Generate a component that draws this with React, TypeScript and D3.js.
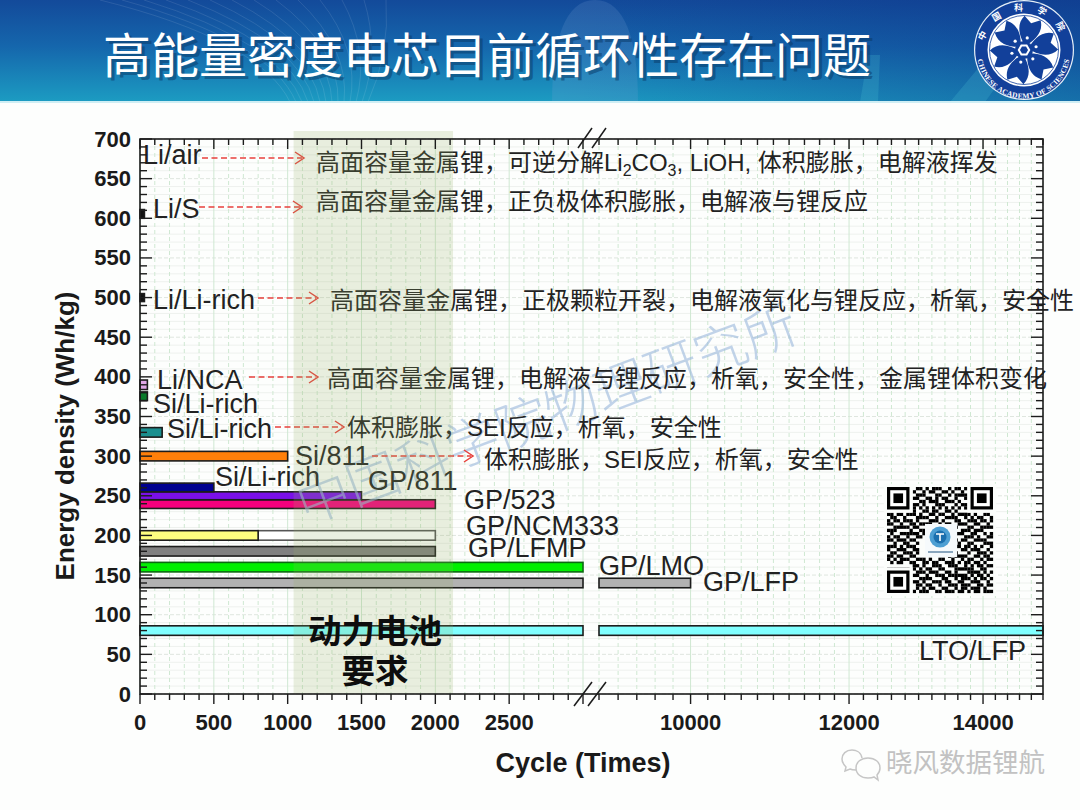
import React from "react";
import * as d3 from "d3";

const title = "高能量密度电芯目前循环性存在问题";
const yTicks = d3.range(0, 701, 50);
const xMajorLeft = [0, 500, 1000, 1500, 2000, 2500];
const xMajorRight = [10000, 12000, 14000];

const barNames = ["LTO/LFP","GP/LFP","GP/LMO","GP/LFMP","GP/NCM333 a","GP/NCM333 b","GP/523","GP/811","Si/Li-rich a","Si/811","Si/Li-rich b","Si/Li-rich c","Li/NCA","Li/Li-rich","Li/S"];
const barStart = [0,0,0,0,800,0,0,0,0,0,0,0,0,0,0];
const barEnd = [15000,10000,3000,2000,2000,800,2000,1500,500,1000,150,50,50,30,30];
const barLow = [74,134,154,174,194,194,234,245,255,294,324,370,384,495,600];
const barHigh = [86,146,166,186,206,206,245,255,266,306,336,381,396,505,611];
const barFill = ["#80ffff","#b2b2b2","#00f000","#808080","#ffffff","#ffff80","#f5007d","#7a10e8","#00008f","#ff7f0a","#1a8f8f","#0a7a2a","#dfa6e6","#111111","#111111"];

const seriesLabels = ["Li/air","Li/S","Li/Li-rich","Li/NCA","Si/Li-rich","Si/Li-rich","Si/811","Si/Li-rich","GP/811","GP/523","GP/NCM333","GP/LFMP","GP/LMO","GP/LFP","LTO/LFP"];
const notes = [
  "高面容量金属锂，正负极体积膨胀，电解液与锂反应",
  "高面容量金属锂，正极颗粒开裂，电解液氧化与锂反应，析氧，安全性",
  "高面容量金属锂，电解液与锂反应，析氧，安全性，金属锂体积变化",
  "体积膨胀，SEI反应，析氧，安全性",
  "体积膨胀，SEI反应，析氧，安全性",
];
const qrRows = [
"111111100110101110010110101111111","100000101001011001101001001000001","101110100111000110010111101011101","101110101100110101100100101011101","101110100011011100111010001011101","100000101101000111000101101000001","111111101010101010101010101111111","000000001001101100110100000000000",
"110110111010011011001011110100110","011001000111100100111100101011001","101101110100011101000110011101101","110010011011110010110011100110010","001111101100101111011100011001111","111000010011011000101001110111000","010011111101100110110111001100101","101100100110111001001000111010011",
"110111011000000000001101100111100","001001100100000000010010011000111","111010111000000000001110110101001","100111001100000000011001101110010","011001110100000000001100010011101","110110011000000000010111100110110","101011100111010011001001011001011","010110011001101100111010110110100",
"000000001101001110011100101011011","111111101010110011000111111001100","100000100111011100110100011110101","101110101100100111011111101011010","101110100011110001100101110101101","101110101101001110110011001110010","100000100110110010011101110011011","101101100101011001100101101110100","111111101011100110111011010110111",
];

function buildX() {
  const left = d3.scaleLinear().domain([0, 3000]).range([140, 583]);
  const right = d3.scaleLog().domain([9000, 15000]).range([599, 1043]);
  return { left, right };
}

export default function App() {
  const W = 1080, H = 810;
  const { left: xL, right: xR } = buildX();
  const y = d3.scaleLinear().domain([0, 700]).range([694, 139]);
  const X0 = 140, X1 = 1043, Y0 = 694, Y1 = 139;
  const ink = "#1c1c1c";
  const sans = "'Liberation Sans','Noto Sans CJK SC',sans-serif";
  const cjk = "'Liberation Sans','Noto Sans CJK SC',sans-serif";

  const leftMinor = d3.range(0, 3001, 100);
  const rightMinor = d3.range(9000, 15001, 200);
  const yMinor = d3.range(0, 701, 10);

  const labelPos: [number, number][] = [[143,164],[153,218],[153,309],[157,389],[153,413],[167,438],[295,465],[215,486],[368,490],[464,509],[466,535],[468,557],[599,575],[703,591],[919,660]];
  const notePos: [number, number][] = [[316,210],[330,309],[327,387],[347,436],[484,468]];
  const arrows: [number, number, number][] = [[202,304,158],[199,302,207],[258,318,298],[249,318,377],[275,344,427],[372,473,456]];

  const qrX = 887, qrY = 487, qrM = 106 / 33;
  const finder = (fx: number, fy: number, k: string) => (
    <g key={k}>
      <rect x={fx - qrM} y={fy - qrM} width={qrM * 9} height={qrM * 9} fill="#fbfdfb" />
      <rect x={fx} y={fy} width={qrM * 7} height={qrM * 7} fill="#000" />
      <rect x={fx + qrM} y={fy + qrM} width={qrM * 5} height={qrM * 5} fill="#fff" />
      <rect x={fx + 2 * qrM} y={fy + 2 * qrM} width={qrM * 3} height={qrM * 3} fill="#000" />
    </g>
  );

  const petal = "M0,-5 C-8,-12 -16,-24 -9,-36 L0,-30 L9,-36 C16,-24 8,-12 0,-5 Z";
  const hex = d3.range(6).map((i) => [5.2 * Math.cos((i * Math.PI) / 3), 5.2 * Math.sin((i * Math.PI) / 3)].join(",")).join(" ");

  return (
    <svg width={W} height={H} viewBox={`0 0 ${W} ${H}`} style={{ position: "absolute", left: 0, top: 0, background: "#fdfefd" }}>
      <defs>
        <linearGradient id="hdr" x1="0" y1="0" x2="0" y2="1">
          <stop offset="0" stopColor="#134a9a" />
          <stop offset="0.45" stopColor="#1566ac" />
          <stop offset="1" stopColor="#1c9cc2" />
        </linearGradient>
        <linearGradient id="hdrR" x1="0" y1="0" x2="1" y2="0">
          <stop offset="0" stopColor="#0c2f86" stopOpacity="0" />
          <stop offset="1" stopColor="#0c2f86" stopOpacity="0.4" />
        </linearGradient>
        <path id="logoTop" d="M 983,52 A 41,41 0 0 1 1065,52" />
        <path id="logoBot" d="M 977,52 A 46.5,46.5 0 0 0 1070,52" />
      </defs>

      {/* header */}
      <rect x={0} y={0} width={W} height={102} fill="url(#hdr)" />
      <rect x={560} y={0} width={520} height={102} fill="url(#hdrR)" />
      {d3.range(0, 14).map((i) => (
        <path key={i} d={`M${100 + i * 22},0 Q${260 + i * 10},${40 + i} ${290 + i * 6},102`} fill="none" stroke="#ffffff" strokeOpacity={0.1} />
      ))}
      <path d="M552,102 C552,40 565,0 595,0 C625,0 638,40 638,102 Z" fill="#7fa6d8" opacity={0.18} />
      <path d="M860,102 L868,55 L880,55 L878,102 Z M950,102 L1010,30 L1030,40 L985,102 Z" fill="#4fc3d6" opacity={0.22} />
      <rect x={0} y={101} width={W} height={2} fill="#cfeef4" />

      {/* title */}
      <text x={105} y={74} fontFamily={cjk} fontSize={48} fill="#0a3a66" opacity={0.5} transform="translate(1.5,1.5)">{title}</text>
      <text x={103} y={73} fontFamily={cjk} fontSize={48} fill="#ffffff">{title}</text>

      {/* logo */}
      <circle cx={1024} cy={50} r={50} fill="#e8f1f8" />
      <circle cx={1024} cy={50} r={48.8} fill="#12409a" />
      <circle cx={1024} cy={50} r={36.5} fill="#ffffff" />
      <circle cx={1024} cy={50} r={34.5} fill="none" stroke="#12409a" strokeWidth={0.8} />
      <g transform="translate(1024,50)">
        {d3.range(6).map((i) => <path key={i} d={petal} transform={`rotate(${15 + i * 60}) scale(0.92)`} fill="#12409a" />)}
        <circle r={9} fill="#12409a" />
        <polygon points={hex} fill="none" stroke="#ffffff" strokeWidth={2} />
        {d3.range(6).map((i) => {
          const a = ((-75 + i * 60) * Math.PI) / 180;
          return <circle key={i} cx={12.5 * Math.cos(a)} cy={12.5 * Math.sin(a)} r={1.6} fill="#ffffff" />;
        })}
      </g>
      <text fontFamily="'Noto Sans CJK SC'" fontSize={9} fontWeight={700} fill="#ffffff" letterSpacing={13}>
        <textPath href="#logoTop" startOffset="8%">中国科学院</textPath>
      </text>
      <text fontFamily="'Liberation Serif',serif" fontSize={7.4} fontWeight={700} fill="#ffffff" letterSpacing={0.25}>
        <textPath href="#logoBot" startOffset="50%" textAnchor="middle">CHINESE ACADEMY OF SCIENCES</textPath>
      </text>

      {/* grid */}
      {yMinor.map((v) => (
        <line key={v} x1={X0} x2={X1} y1={y(v)} y2={y(v)} stroke={v % 50 === 0 ? "#dfe6df" : "#eef1ee"} strokeWidth={1} strokeDasharray={v % 50 === 0 ? "4 2" : "none"} />
      ))}
      {leftMinor.map((v) => (
        <line key={v} x1={xL(v)} x2={xL(v)} y1={Y1} y2={Y0} stroke="#cfe8d2" strokeWidth={1} strokeDasharray={v % 500 === 0 ? "none" : "4 3"} />
      ))}
      {rightMinor.map((v) => (
        <line key={v} x1={xR(v)} x2={xR(v)} y1={Y1} y2={Y0} stroke="#cfe8d2" strokeWidth={1} strokeDasharray={xMajorRight.includes(v) ? "none" : "4 3"} />
      ))}

      {/* bars */}
      {barNames.map((n, i) => {
        const a = barStart[i], b = barEnd[i];
        const yt = y(barHigh[i]), h = y(barLow[i]) - yt;
        const w1 = xL(Math.min(b, 3000)) - xL(a);
        const border = i === 4 ? "#555" : i === 2 ? "#0c6a12" : ink;
        return (
          <g key={n}>
            <rect x={xL(a)} y={yt} width={w1} height={h} fill={barFill[i]} stroke={border} strokeWidth={1.6} />
            {b > 3000 && (
              <rect x={xR(9000)} y={yt} width={xR(b) - xR(9000)} height={h} fill={barFill[i]} stroke={border} strokeWidth={1.6} />
            )}
          </g>
        );
      })}

      {/* watermark */}
      <text x={548} y={433} textAnchor="middle" fontFamily="'Noto Sans CJK SC'" fontSize={53} fontWeight={300} fill="#9ab8dc" opacity={0.6} transform="rotate(-20.5 548 417)">中国科学院物理研究所</text>

      {/* series labels */}
      {seriesLabels.map((t, i) => (
        <text key={i} x={labelPos[i][0]} y={labelPos[i][1]} fontFamily={sans} fontSize={27} fill="#222">{t}</text>
      ))}

      {/* arrows */}
      {arrows.map(([a, b, c], i) => (
        <g key={i} fill="none" stroke="#e8403c" strokeWidth={1.5}>
          <line x1={a} x2={b - 2} y1={c} y2={c} strokeDasharray="6 3.5" />
          <path d={`M${b - 9},${c - 6} L${b},${c} L${b - 9},${c + 6}`} />
        </g>
      ))}

      {/* notes */}
      <text x={316} y={171} fontFamily={cjk} fontSize={24} fill="#222">
        高面容量金属锂，可逆分解Li<tspan fontSize={16} dy={5}>2</tspan><tspan dy={-5}>CO</tspan><tspan fontSize={16} dy={5}>3</tspan><tspan dy={-5}>, LiOH, 体积膨胀，电解液挥发</tspan>
      </text>
      {notes.map((t, i) => (
        <text key={i} x={notePos[i][0]} y={notePos[i][1]} fontFamily={cjk} fontSize={24} fill="#222">{t}</text>
      ))}

      {/* requirement band */}
      <rect x={xL(1040)} y={131} width={xL(2120) - xL(1040)} height={563} fill="#96af64" opacity={0.2} />
      <text x={375} y={643} textAnchor="middle" fontFamily={cjk} fontSize={33.5} fontWeight={700} fill="#0d0d0d">动力电池</text>
      <text x={375} y={683} textAnchor="middle" fontFamily={cjk} fontSize={33.5} fontWeight={700} fill="#0d0d0d">要求</text>

      {/* frame and ticks */}
      <rect x={X0} y={Y1} width={X1 - X0} height={Y0 - Y1} fill="none" stroke={ink} strokeWidth={1.6} />
      {leftMinor.map((v) => {
        const big = v % 500 === 0;
        return (
          <g key={v} stroke={ink} strokeWidth={1.4}>
            <line x1={xL(v)} x2={xL(v)} y1={Y0} y2={Y0 + (big ? 10 : 6)} />
            <line x1={xL(v)} x2={xL(v)} y1={Y1} y2={Y1 + (big ? 10 : 6)} />
          </g>
        );
      })}
      {rightMinor.map((v) => {
        const big = xMajorRight.includes(v);
        return (
          <g key={v} stroke={ink} strokeWidth={1.4}>
            <line x1={xR(v)} x2={xR(v)} y1={Y0} y2={Y0 + (big ? 10 : 6)} />
            <line x1={xR(v)} x2={xR(v)} y1={Y1} y2={Y1 + (big ? 10 : 6)} />
          </g>
        );
      })}
      {yMinor.map((v) => {
        const big = v % 50 === 0;
        return (
          <g key={v} stroke={ink} strokeWidth={1.4}>
            <line x1={X0} x2={X0 + (big ? 12 : 7)} y1={y(v)} y2={y(v)} />
            <line x1={X1} x2={X1 - (big ? 12 : 7)} y1={y(v)} y2={y(v)} />
          </g>
        );
      })}
      {/* axis break marks */}
      {[[578, 148, 592, 128], [592, 148, 606, 128], [574, 706, 592, 682], [588, 706, 606, 682]].map((d, i) => (
        <line key={i} x1={d[0]} y1={d[1]} x2={d[2]} y2={d[3]} stroke={ink} strokeWidth={1.5} />
      ))}

      {/* tick labels */}
      {yTicks.map((v) => (
        <text key={v} x={131} y={y(v) + 7.5} textAnchor="end" fontFamily={sans} fontSize={22} fontWeight={700} fill="#1a1a1a">{v}</text>
      ))}
      {xMajorLeft.map((v) => (
        <text key={v} x={xL(v)} y={730} textAnchor="middle" fontFamily={sans} fontSize={22} fontWeight={700} fill="#1a1a1a">{v}</text>
      ))}
      {xMajorRight.map((v) => (
        <text key={v} x={xR(v)} y={730} textAnchor="middle" fontFamily={sans} fontSize={22} fontWeight={700} fill="#1a1a1a">{v}</text>
      ))}
      <text x={583} y={772} textAnchor="middle" fontFamily={sans} fontSize={27} fontWeight={700} fill="#1a1a1a">Cycle (Times)</text>
      <text transform="translate(74,436) rotate(-90)" textAnchor="middle" fontFamily={sans} fontSize={26} fontWeight={700} fill="#1a1a1a">Energy density (Wh/kg)</text>

      {/* QR code */}
      <rect x={qrX - 3} y={qrY - 3} width={112} height={112} fill="#fbfdfb" />
      {qrRows.map((row, r) =>
        row.split("").map((c, k) => (c === "1" ? <rect key={`${r}-${k}`} x={qrX + k * qrM} y={qrY + r * qrM} width={qrM + 0.1} height={qrM + 0.1} fill="#000" /> : null))
      )}
      {finder(qrX, qrY, "a")}
      {finder(qrX + 26 * qrM, qrY, "b")}
      {finder(qrX, qrY + 26 * qrM, "c")}
      <rect x={qrX + 38} y={qrY + 37} width={32} height={33} fill="#f6fafc" />
      <circle cx={qrX + 53} cy={qrY + 50} r={10.5} fill="#4d9fd3" />
      <circle cx={qrX + 53} cy={qrY + 50} r={6.5} fill="#1b6fae" />
      <path d={`M${qrX + 49},${qrY + 47} h8 M${qrX + 53},${qrY + 47} v7`} stroke="#fff" strokeWidth={1.6} />
      <rect x={qrX + 41} y={qrY + 64} width={25} height={2} fill="#8aa6bd" />

      {/* WeChat mark */}
      <g fill="none" stroke="#c6c6c6" strokeWidth={1.5}>
        <path d="M862,758 C861,752 856,750 852,750 C846,750 842,754 842,759 C842,762 844,765 846,767 L845,771 L850,769 C852,770 854,770 856,770" />
        <path d="M880,768 C880,762 875,758 868,758 C861,758 856,762 856,768 C856,774 861,778 868,778 C870,778 872,778 874,777 L878,780 L877,775 C879,773 880,771 880,768 Z" />
      </g>
      <text x={886} y={772} fontFamily={cjk} fontSize={26.5} fill="#c2c2c2">晓风数据锂航</text>
    </svg>
  );
}
